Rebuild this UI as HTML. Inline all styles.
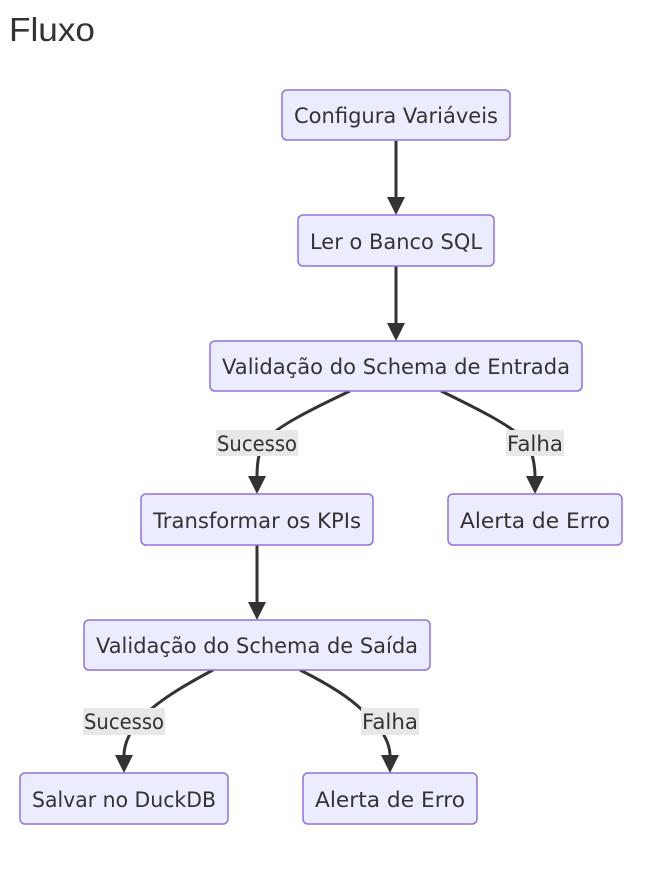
<!DOCTYPE html>
<html><head><meta charset="utf-8"><style>
html,body{margin:0;padding:0;background:#fff;}
svg{display:block;}
text{font-family:"DejaVu Sans","Liberation Sans",sans-serif;fill:#333;}
.n{fill:#ECECFF;stroke:#9370DB;stroke-width:1.5;}
.e{fill:none;stroke:#333;stroke-width:3;}
.l{fill:#e8e8e8;}
</style></head><body>
<svg width="654" height="875" viewBox="0 0 654 875" xmlns="http://www.w3.org/2000/svg">
<text x="9" y="41" font-size="33" style="font-family:'Liberation Sans',sans-serif;" fill="#444" textLength="86" lengthAdjust="spacingAndGlyphs">Fluxo</text>

<!-- edges -->
<path class="e" d="M396,141 L396,198"/><path d="M387,197 L405,197 L396,215z" fill="#333"/>
<path class="e" d="M396,266 L396,324"/><path d="M387,323 L405,323 L396,341z" fill="#333"/>
<path class="e" d="M350,391 C310,410 280,425 265,440 C258,452 257,465 257,477"/><path d="M248,476 L266,476 L257,494z" fill="#333"/>
<path class="e" d="M441,391 C480,410 510,425 525,440 C533,452 535,465 535,477"/><path d="M526,476 L544,476 L535,494z" fill="#333"/>
<path class="e" d="M257,545 L257,603"/><path d="M248,602 L266,602 L257,620z" fill="#333"/>
<path class="e" d="M213,670 C185,685 165,697 150,710 C128,730 124,745 124,756"/><path d="M115,755 L133,755 L124,773z" fill="#333"/>
<path class="e" d="M300,670 C330,685 350,698 362,710 C385,730 390,745 390,756"/><path d="M381,755 L399,755 L390,773z" fill="#333"/>

<!-- edge labels -->
<rect class="l" x="216" y="430" width="82" height="26"/><text x="257" y="451" font-size="21" text-anchor="middle" textLength="80" lengthAdjust="spacingAndGlyphs">Sucesso</text>
<rect class="l" x="506" y="430" width="58" height="26"/><text x="535" y="451" font-size="21" text-anchor="middle" textLength="56" lengthAdjust="spacingAndGlyphs">Falha</text>
<rect class="l" x="83" y="708" width="82" height="27"/><text x="124" y="729" font-size="21" text-anchor="middle" textLength="80" lengthAdjust="spacingAndGlyphs">Sucesso</text>
<rect class="l" x="361" y="708" width="58" height="27"/><text x="390" y="729" font-size="21" text-anchor="middle" textLength="56" lengthAdjust="spacingAndGlyphs">Falha</text>

<!-- nodes -->
<rect class="n" x="282" y="90" width="228" height="50" rx="5"/><text x="396" y="123" font-size="21" text-anchor="middle" textLength="204" lengthAdjust="spacingAndGlyphs">Configura Variáveis</text>
<rect class="n" x="298" y="215" width="196" height="51" rx="5"/><text x="396" y="249" font-size="21" text-anchor="middle" textLength="172" lengthAdjust="spacingAndGlyphs">Ler o Banco SQL</text>
<rect class="n" x="210" y="341" width="372" height="50" rx="5"/><text x="396" y="374" font-size="21" text-anchor="middle" textLength="348" lengthAdjust="spacingAndGlyphs">Validação do Schema de Entrada</text>
<rect class="n" x="141" y="494" width="232" height="51" rx="5"/><text x="257" y="528" font-size="21" text-anchor="middle" textLength="208" lengthAdjust="spacingAndGlyphs">Transformar os KPIs</text>
<rect class="n" x="448" y="494" width="174" height="51" rx="5"/><text x="535" y="528" font-size="21" text-anchor="middle" textLength="150" lengthAdjust="spacingAndGlyphs">Alerta de Erro</text>
<rect class="n" x="84" y="620" width="346" height="50" rx="5"/><text x="257" y="653" font-size="21" text-anchor="middle" textLength="322" lengthAdjust="spacingAndGlyphs">Validação do Schema de Saída</text>
<rect class="n" x="20" y="773" width="208" height="51" rx="5"/><text x="124" y="807" font-size="21" text-anchor="middle" textLength="184" lengthAdjust="spacingAndGlyphs">Salvar no DuckDB</text>
<rect class="n" x="303" y="773" width="174" height="51" rx="5"/><text x="390" y="807" font-size="21" text-anchor="middle" textLength="150" lengthAdjust="spacingAndGlyphs">Alerta de Erro</text>
</svg>
</body></html>
